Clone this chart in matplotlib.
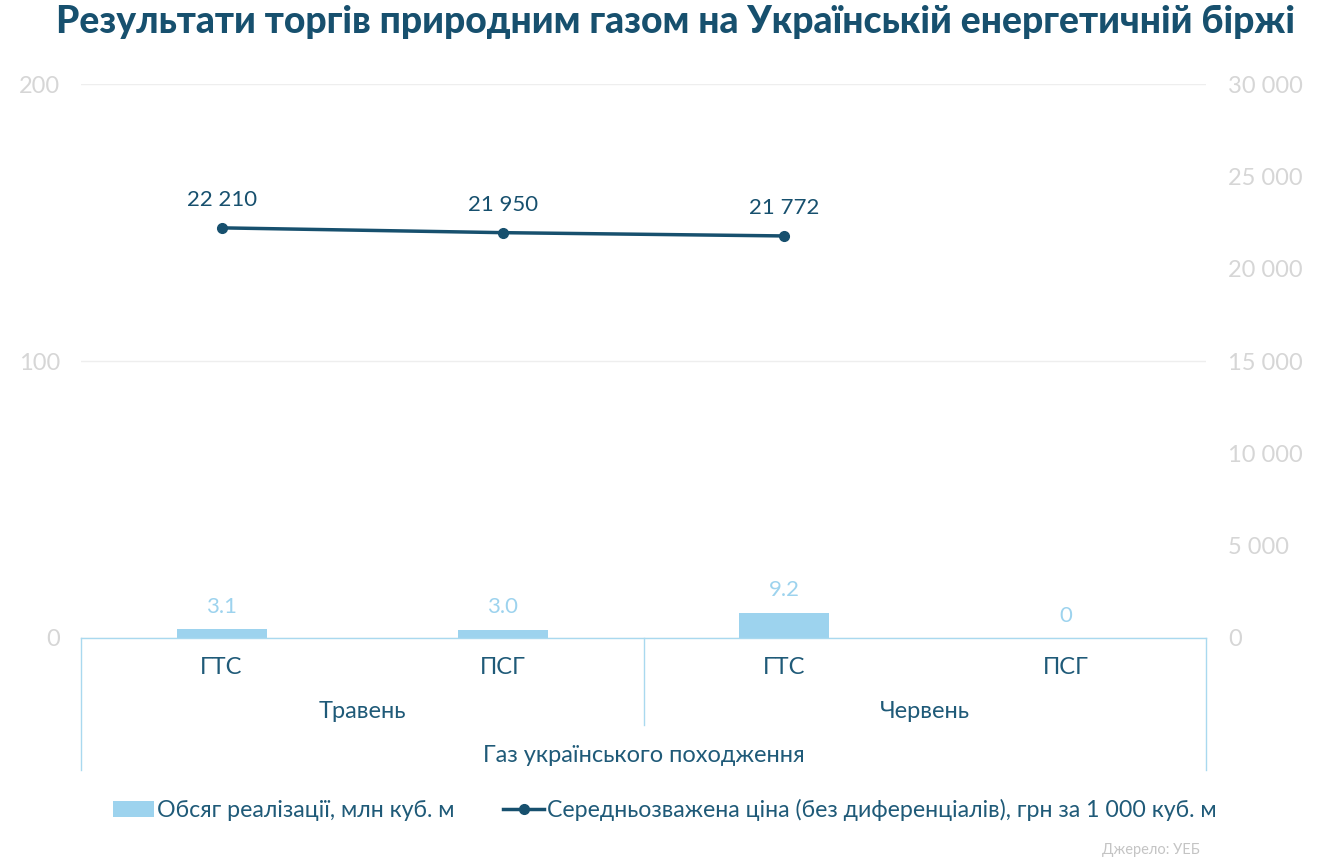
import matplotlib
matplotlib.use("Agg")
import matplotlib.pyplot as plt
import matplotlib.transforms as mtransforms
from matplotlib.lines import Line2D
from matplotlib.patches import Patch

categories = ["ГТС", "ПСГ", "ГТС", "ПСГ"]
months = ["Травень", "Червень"]
group_label = "Газ українського походження"
volume = [3.1, 3.0, 9.2, 0]
volume_labels = ["3.1", "3.0", "9.2", "0"]
price = [22210, 21950, 21772]
price_labels = ["22 210", "21 950", "21 772"]
left_ticks = [0, 100, 200]
right_ticks = [0, 5000, 10000, 15000, 20000, 25000, 30000]
right_tick_labels = ["0", "5 000", "10 000", "15 000", "20 000", "25 000", "30 000"]

title = "Результати торгів природним газом на Українській енергетичній біржі"
legend_bar = "Обсяг реалізації, млн куб. м"
legend_line = "Середньозважена ціна (без диференціалів), грн за 1 000 куб. м"
source = "Джерело: УЕБ"

DARK = "#17506e"
TEXT = "#1f5a78"
BAR = "#9dd3ee"
AXLINE = "#a9d9ef"
TICK = "#d6d6d6"
GRID = "#eeeeee"

plt.rcParams['font.family'] = ['Lato', 'DejaVu Sans']

W, H = 1320, 866
fig = plt.figure(figsize=(W / 100, H / 100), dpi=100)
ax = fig.add_axes([81 / W, 1 - 638 / H, (1206 - 81) / W, (638 - 84) / H])
ax2 = ax.twinx()

x = list(range(len(categories)))
ax.bar(x, volume, width=0.32, color=BAR, zorder=2)
ax.set_xlim(-0.5, len(categories) - 0.5)
ax.set_ylim(0, 200)
ax.set_yticks(left_ticks)
ax.set_yticklabels([str(t) for t in left_ticks])
ax.grid(axis='y', color=GRID, linewidth=1, zorder=0)
ax.set_xticks([])
ax.tick_params(axis='y', length=0, labelsize=17, labelcolor=TICK, pad=15)
for s in ["top", "left", "right"]:
    ax.spines[s].set_visible(False)
ax.spines["bottom"].set_color(AXLINE)
ax.spines["bottom"].set_linewidth(1)

for xi, v, lab in zip(x, volume, volume_labels):
    ax.annotate(lab, (xi, v), xytext=(0, 9), textcoords='offset points',
                ha='center', va='bottom', fontsize=16, color=BAR)

px = x[:len(price)]
ax2.plot(px, price, color=DARK, linewidth=2.5, marker='o', markersize=7, zorder=3)
ax2.set_ylim(0, 30000)
ax2.set_yticks(right_ticks)
ax2.set_yticklabels(right_tick_labels)
ax2.tick_params(axis='y', length=0, labelsize=17, labelcolor=TICK, pad=16)
for s in ["top", "left", "right", "bottom"]:
    ax2.spines[s].set_visible(False)
for xi, v, lab in zip(px, price, price_labels):
    ax2.annotate(lab, (xi, v), xytext=(0, 13), textcoords='offset points',
                 ha='center', va='bottom', fontsize=16, color=DARK)

# multi-level category axis
trans = mtransforms.blended_transform_factory(ax.transData, ax.transAxes)
ah = (638 - 84)
def yax(py):
    return (638 - py) / ah

for xi, c in zip(x, categories):
    ax.text(xi, yax(667), c, transform=trans, ha='center', va='center',
            fontsize=17, color=TEXT)
ax.text(0.5, yax(712), months[0], transform=trans, ha='center', va='center',
        fontsize=17, color=TEXT)
ax.text(2.5, yax(712), months[1], transform=trans, ha='center', va='center',
        fontsize=17, color=TEXT)
ax.text(1.5, yax(755), group_label, transform=trans, ha='center', va='center',
        fontsize=17, color=TEXT)

for xv, ybot in [(-0.5, 770), (1.5, 725), (3.5, 770)]:
    ax.add_line(Line2D([xv, xv], [0, yax(ybot)], transform=trans,
                       color=AXLINE, linewidth=1, clip_on=False))

fig.text(675 / W, 1 - 22 / H, title, ha='center', va='center',
         fontsize=26.8, fontweight='black', color=DARK)

handles = [Patch(facecolor=BAR, edgecolor='none'),
           Line2D([0], [0], color=DARK, linewidth=2.5, marker='o', markersize=7)]
fig.legend(handles, [legend_bar, legend_line], loc='center',
           bbox_to_anchor=(665 / W, 1 - 810 / H), ncol=2, frameon=False,
           fontsize=16.7, labelcolor=TEXT, handlelength=1.75, handletextpad=0.15,
           columnspacing=2.1)

fig.text(1200 / W, 1 - 850 / H, source, ha='right', va='center',
         fontsize=10.5, color="#c4c4c4")

fig.savefig("out.png", dpi=100, facecolor='white')
